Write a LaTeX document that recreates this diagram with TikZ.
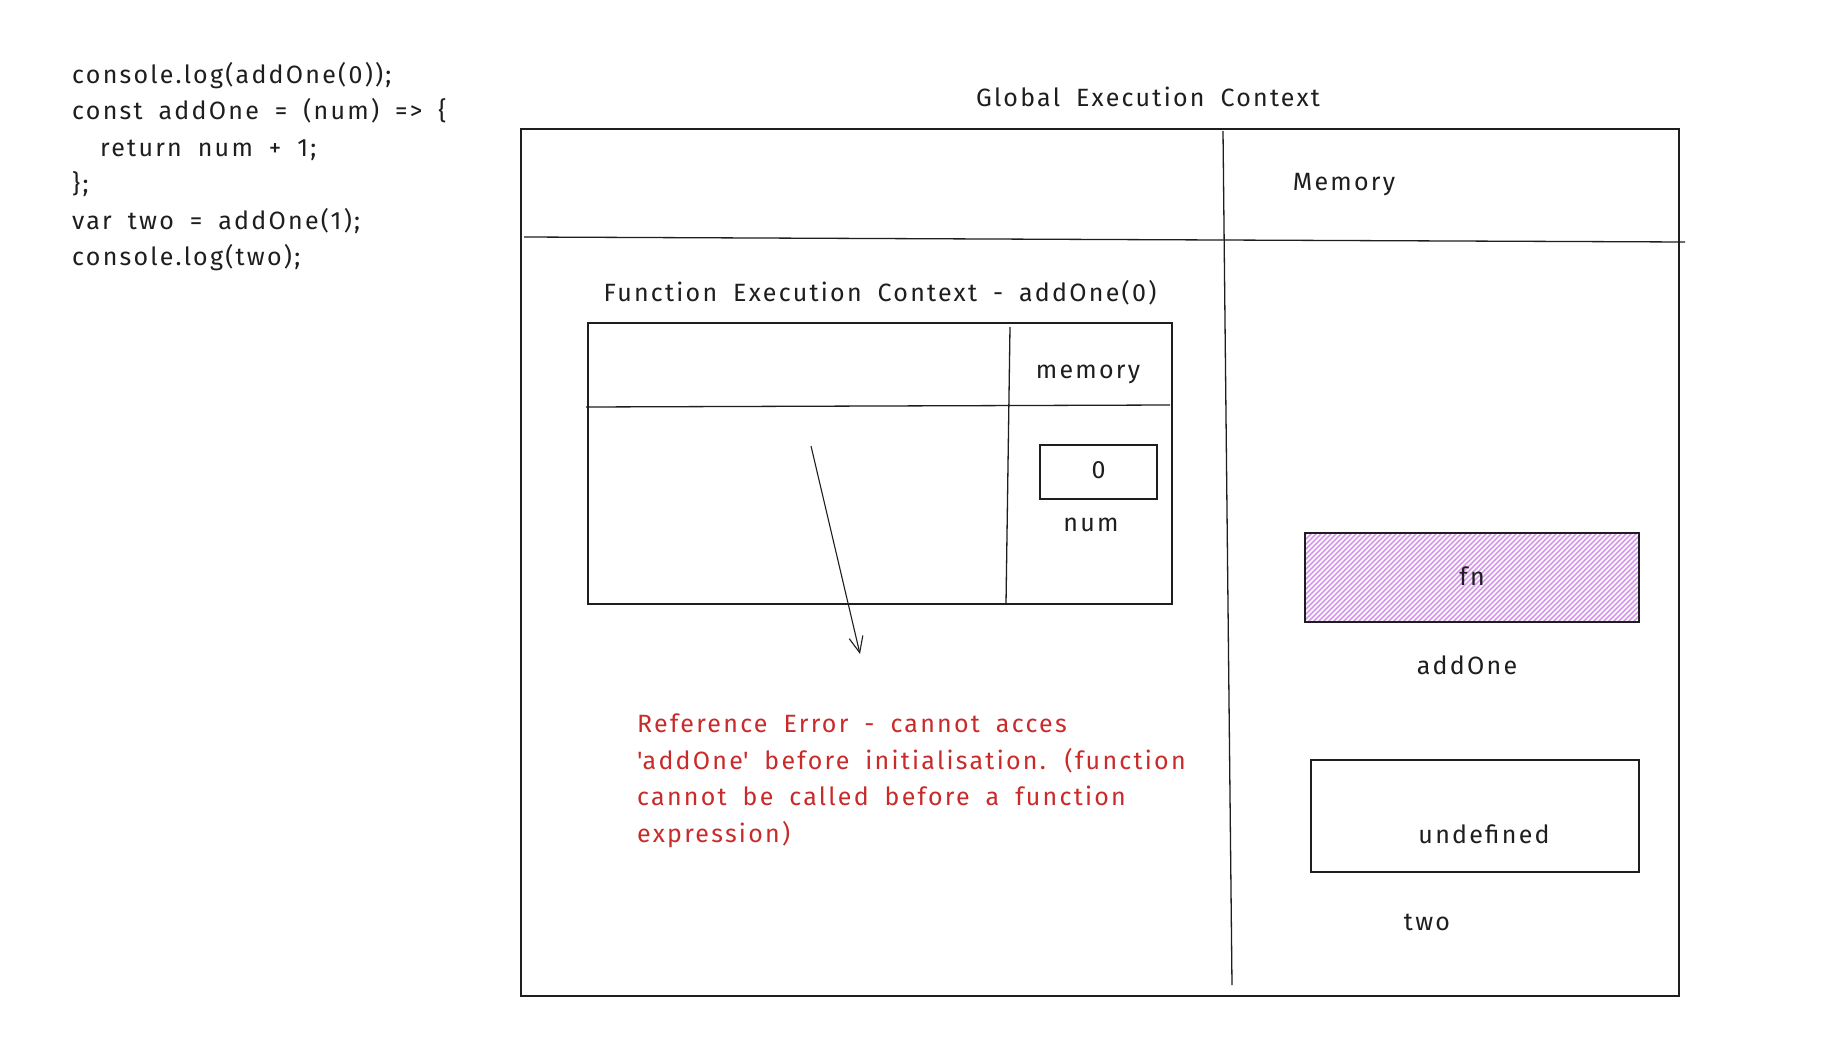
\documentclass[tikz,border=0pt]{standalone}
\usepackage{fontspec}
\setmainfont{Fira Sans}[LetterSpace=9,WordSpace=1.8]
\usetikzlibrary{arrows.meta}
\definecolor{ink}{HTML}{1E1E1E}
\definecolor{errred}{HTML}{C92A2A}
\definecolor{hatchpurple}{RGB}{214,150,236}
\tikzset{
  box/.style={draw=ink, line width=1.3pt, inner sep=0pt},
  divider/.style={draw=ink, line width=1.3pt},
  label/.style={text=ink, font=\fontsize{25}{30}\selectfont, inner sep=0pt},
  errtext/.style={text=errred, font=\fontsize{25}{36.5}\selectfont, inner sep=0pt, align=left, anchor=north west},
  codetext/.style={text=ink, font=\fontsize{25}{36.5}\selectfont, inner sep=0pt, align=left, anchor=north west},
  hatch/.style={draw=hatchpurple, line width=1.6pt},
  arrowline/.style={draw=ink, line width=1.1pt, -{Straight Barb[length=16pt,width=14pt]}}
}
\begin{document}
\begin{tikzpicture}[x=1pt,y=-1pt]
\useasboundingbox (0,0) rectangle (1840,1038);
\fill[white] (0,0) rectangle (1840,1038);

% code
\node[codetext] (code) at (72,62) {console.log(addOne(0));\\const addOne = (num) => \{\\\hspace*{28pt}return num + 1;\\\};\\var two = addOne(1);\\console.log(two);};

% global execution context
\node[label] (gectitle) at (1148,97) {Global Execution Context};
\node[box, minimum width=1158pt, minimum height=867pt] (gec) at (1100,562.5) {};
\coordinate (hL) at (524,237);
\coordinate (hR) at (1685,242);
\draw[divider] (hL) -- (hR);
\coordinate (vT) at (1223,131);
\coordinate (vB) at (1232,985);
\draw[divider] (vT) -- (vB);
\node[label] (memtitle) at (1344,185) {Memory};

% function execution context
\node[label] (fectitle) at (880,293) {Function Execution Context - addOne(0)};
\node[box, minimum width=584pt, minimum height=281pt] (fec) at (880,463.5) {};
\coordinate (fhL) at (586,407);
\coordinate (fhR) at (1170,405);
\draw[divider] (fhL) -- (fhR);
\coordinate (fvT) at (1010,327);
\coordinate (fvB) at (1006,604);
\draw[divider] (fvT) -- (fvB);
\node[label] (fecmem) at (1088,374) {memory};
\node[box, minimum width=117pt, minimum height=54pt] (numbox) at (1098.5,472) {};
\node[label] (zero) at (1098.5,470) {0};
\node[label] (numlbl) at (1091,525) {num};

% arrow
\coordinate (arrS) at (811,446);
\coordinate (arrE) at (860,654);
\draw[arrowline] (arrS) -- (arrE);

% error text
\node[errtext] (err) at (637,714) {Reference Error - cannot acces\\\textquotesingle addOne\textquotesingle\ before initialisation. (function\\cannot be called before a function\\expression)};

% fn box
\node[minimum width=334pt, minimum height=89pt, inner sep=0pt] (fnbox) at (1472,577.5) {};
\begin{scope}
  \clip (fnbox.south west) rectangle (fnbox.north east);
  \foreach \k in {0,5,...,430} {
    \draw[hatch] (1216+\k,624) -- ++(91,-91);
  }
\end{scope}
\node[box, minimum width=334pt, minimum height=89pt] (fnframe) at (1472,577.5) {};
\node[label] (fn) at (1472,576) {fn};
\node[label] (addone) at (1467,665) {addOne};

% undefined box
\node[box, minimum width=328pt, minimum height=112pt] (undefbox) at (1475,816) {};
\node[label] (undef) at (1484,834) {undefined};
\node[label] (two) at (1427,922) {two};
\end{tikzpicture}
\end{document}
